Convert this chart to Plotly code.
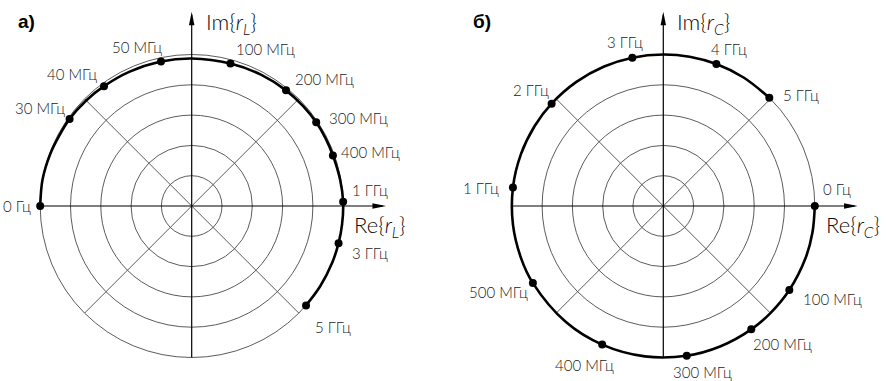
import numpy as np
import plotly.graph_objects as go

# ---------------- data ----------------
# a) inductive: labelled frequency points, phase angle (deg), magnitude |r_L|
labels_L = ["0 Гц", "30 МГц", "40 МГц", "50 МГц", "100 МГц", "200 МГц",
            "300 МГц", "400 МГц", "1 ГГц", "3 ГГц", "5 ГГц"]
angle_L = [180, 144.5, 126.2, 102, 74.8, 50.8, 33.9, 19.7, 1.6, -14.2, -41]
mag_L = [1.0, 0.99, 0.98, 0.975, 0.975, 0.985, 0.99, 0.99, 1.0, 1.0, 1.0]
# locus curve of a)
curve_angle_L = [180, 170, 160, 152, 144.5, 135, 126.2, 115, 102, 90, 74.8, 62,
                 50.8, 42, 33.9, 27, 19.7, 10, 1.6, -7, -14.2, -22, -32, -41]
curve_mag_L = [1.0, 1.0, 0.995, 0.99, 0.99, 0.985, 0.98, 0.977, 0.975, 0.974, 0.975, 0.98,
               0.985, 0.988, 0.99, 0.99, 0.99, 0.995, 1.0, 1.0, 1.0, 1.0, 1.0, 1.0]

# б) capacitive
labels_C = ["0 Гц", "100 МГц", "200 МГц", "300 МГц", "400 МГц", "500 МГц",
            "1 ГГц", "2 ГГц", "3 ГГц", "4 ГГц", "5 ГГц"]
angle_C = [0, -33.7, -54.5, -81.1, -113.8, -149.4, -187, -222.5, -258.2, -290.5, -314.4]
mag_C = [1.0, 1.0, 1.0, 1.0, 1.0, 1.0, 1.0, 1.0, 1.0, 1.0, 1.0]
# locus curve of б)
curve_angle_C = [0, -10, -20, -33.7, -45, -54.5, -68, -81.1, -97, -113.8, -130, -149.4,
                 -160, -173, -187, -200, -212, -222.5, -235, -247, -258.2, -270, -280,
                 -290.5, -302, -314.4]
curve_mag_C = [1.0, 1.0, 1.0, 1.0, 1.0, 1.0, 1.0, 1.0, 1.0, 1.0, 1.0, 1.0, 1.0,
               1.0, 1.0, 1.0, 1.0, 1.0, 1.0, 1.0, 1.0, 1.0, 1.0, 1.0, 1.0, 1.0]

grid_r = [0.2, 0.4, 0.6, 0.8, 1.0]
spoke_angles = [45, 135]

# ---------------- layout constants ----------------
W, H = 887, 381
S = 151.5                 # pixels per unit radius
CX_L, CX_C, CY = 191.7, 663.3, 206
TIP_X, TIP_Y = 1.283, 1.283
HEAD_LEN, HEAD_HW = 0.09, 0.018

# label offsets (px) from each point: (dx right, dy down)
off_L = [(-23, 0), (-30, -11), (-32, -12), (-24, -15), (35, -14), (38, -11),
         (42, -4), (38, -3), (27, -12), (31, 10), (27, 22)]
off_C = [(22, -17), (43, 9), (31, 15), (16, 16), (-18, 20), (-34, 9),
         (-32, 0), (-21, -14), (-7, -16), (13, -15), (32, -3)]

FONT_LBL = dict(family="Lato", size=15, color="#1a1a1a", weight=300)
FONT_AX = dict(family="Lato", size=22, color="#0a0a0a", weight=300)
GRID = dict(color="#4a4a4a", width=0.9)


def to_xy(ang, mag):
    th = np.deg2rad(np.array(ang, dtype=float))
    mg = np.array(mag, dtype=float)
    return mg * np.cos(th), mg * np.sin(th)


fig = go.Figure()
shapes, annos = [], []

panels = [
    dict(labels=labels_L, ang=angle_L, mag=mag_L, cang=curve_angle_L, cmag=curve_mag_L,
         offs=off_L, cx=CX_L, xd=[0, 0.5], px0=0, px1=W / 2, xa="x", ya="y",
         sub="L", title="а)", tx=16),
    dict(labels=labels_C, ang=angle_C, mag=mag_C, cang=curve_angle_C, cmag=curve_mag_C,
         offs=off_C, cx=CX_C, xd=[0.5, 1], px0=W / 2, px1=W, xa="x2", ya="y2",
         sub="C", title="б)", tx=471),
]

for i, p in enumerate(panels):
    xr, yr = p["xa"], p["ya"]
    cx_, cy_ = to_xy(p["cang"], p["cmag"])
    fig.add_trace(go.Scatter(
        x=cx_, y=cy_, mode="lines", xaxis=xr, yaxis=yr,
        line=dict(color="black", width=2.6, shape="spline", smoothing=1.0),
        hoverinfo="skip", showlegend=False))
    x, y = to_xy(p["ang"], p["mag"])
    fig.add_trace(go.Scatter(
        x=x, y=y, mode="markers", xaxis=xr, yaxis=yr,
        marker=dict(size=8, color="black"), hoverinfo="skip", showlegend=False))

    # grid circles
    for r in grid_r:
        shapes.append(dict(type="circle", xref=xr, yref=yr, x0=-r, y0=-r, x1=r, y1=r,
                           line=GRID, layer="below"))
    # diagonal spokes
    for a in spoke_angles:
        ca, sa = np.cos(np.deg2rad(a)), np.sin(np.deg2rad(a))
        shapes.append(dict(type="line", xref=xr, yref=yr, x0=-ca, y0=-sa, x1=ca, y1=sa,
                           line=GRID, layer="below"))
    # axes with arrows
    shapes.append(dict(type="line", xref=xr, yref=yr, x0=-1, y0=0, x1=TIP_X - 0.02, y1=0,
                       line=dict(color="black", width=1.2), layer="below"))
    shapes.append(dict(type="line", xref=xr, yref=yr, x0=0, y0=-1, x1=0, y1=TIP_Y - 0.02,
                       line=dict(color="black", width=1.2), layer="below"))
    shapes.append(dict(type="path", xref=xr, yref=yr,
                       path=f"M{TIP_X},0 L{TIP_X-HEAD_LEN},{HEAD_HW} L{TIP_X-HEAD_LEN},{-HEAD_HW} Z",
                       fillcolor="black", line=dict(width=0), layer="below"))
    shapes.append(dict(type="path", xref=xr, yref=yr,
                       path=f"M0,{TIP_Y} L{HEAD_HW},{TIP_Y-HEAD_LEN} L{-HEAD_HW},{TIP_Y-HEAD_LEN} Z",
                       fillcolor="black", line=dict(width=0), layer="below"))

    # frequency labels
    for lab, xx, yy, (dx, dy) in zip(p["labels"], x, y, p["offs"]):
        annos.append(dict(x=xx, y=yy, xref=xr, yref=yr, text=lab, showarrow=False,
                          xshift=dx, yshift=-dy, xanchor="center", yanchor="middle",
                          font=FONT_LBL))
    # axis labels
    sub = p["sub"]
    annos.append(dict(x=12 / S, y=(CY - 23) / S, xref=xr, yref=yr,
                      text=f"Im{{<i>r<sub>{sub}</sub></i>}}", showarrow=False,
                      xanchor="left", yanchor="middle", font=FONT_AX))
    annos.append(dict(x=160.5 / S, y=-(226 - CY) / S, xref=xr, yref=yr,
                      text=f"Re{{<i>r<sub>{sub}</sub></i>}}", showarrow=False,
                      xanchor="left", yanchor="middle", font=FONT_AX))
    # panel letter
    annos.append(dict(x=p["tx"] / W, y=1 - 21 / H, xref="paper", yref="paper",
                      text=f"<b>{p['title']}</b>", showarrow=False,
                      xanchor="left", yanchor="middle",
                      font=dict(family="Liberation Sans", size=19, color="black")))

    ax_key = "xaxis" if i == 0 else "xaxis2"
    ay_key = "yaxis" if i == 0 else "yaxis2"
    fig.update_layout({
        ax_key: dict(domain=p["xd"], range=[(p["px0"] - p["cx"]) / S, (p["px1"] - p["cx"]) / S],
                     visible=False, fixedrange=True),
        ay_key: dict(domain=[0, 1], range=[-(H - CY) / S, CY / S],
                     visible=False, fixedrange=True, anchor=xr),
    })

fig.update_layout(
    width=W, height=H, margin=dict(l=0, r=0, t=0, b=0),
    paper_bgcolor="white", plot_bgcolor="white",
    shapes=shapes, annotations=annos, showlegend=False,
)
fig.update_layout(xaxis2=dict(anchor="y2"))

fig.write_html("out.html", config={"displayModeBar": False},
               post_script="document.body.style.margin='0';document.body.style.padding='0';"
                           "document.body.style.overflow='hidden';")
